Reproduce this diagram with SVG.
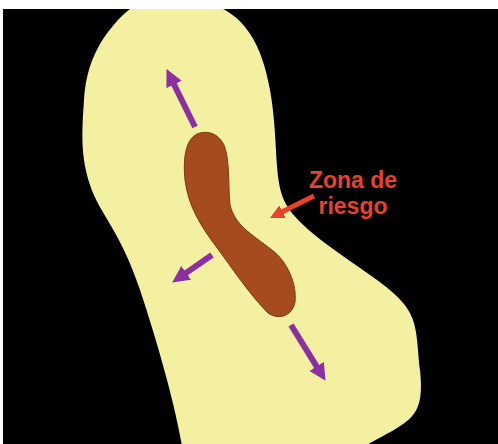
<svg xmlns="http://www.w3.org/2000/svg" width="498" height="444" viewBox="0 0 498 444">
<defs>
<style>
.purple{stroke:#8d2fa2;stroke-width:6;fill:none}
.red{stroke:#e8412c;stroke-width:5;fill:none}
.lbl{font-family:"Liberation Sans",Arial,sans-serif;font-weight:bold;font-size:23px;fill:#e8412c;text-anchor:middle}
</style>
<marker id="hp" viewBox="0 0 17 17" refX="8" refY="8.5" markerWidth="17" markerHeight="17" markerUnits="userSpaceOnUse" orient="auto"><path d="M0,0 L17,8.5 L0,17 Z" fill="#8d2fa2"/></marker>
<marker id="hr" viewBox="0 0 14 14" refX="7" refY="7" markerWidth="14" markerHeight="14" markerUnits="userSpaceOnUse" orient="auto"><path d="M0,0 L14,7 L0,14 Z" fill="#e8412c"/></marker>
</defs>
<rect width="498" height="444" fill="#000"/>
<g id="zone">
<path d="M182 446 C176 410,160 350,140 290 S100 215,90 185 S82 130,84 100 S95 45,118 20 S165 -8,205 2 S262 45,270 90 S274 170,282 195 S320 240,370 275 S415 320,420 370 S410 420,365 446 Z" fill="#f4f0a2"/>
</g>
<g id="core">
<path d="M197 134 C185 140,183 160,185 180 C188 205,200 225,215 245 C232 268,250 295,268 313 C278 320,292 317,295 302 C297 285,288 262,272 250 C250 233,235 225,230 205 C228 185,230 160,224 145 C218 133,207 130,197 134 Z" fill="#a64b1e" stroke="#7a3a10" stroke-width="1"/>
</g>
<rect x="0" y="0" width="498" height="9" fill="#fff"/>
<rect x="0" y="0" width="3" height="444" fill="#fff"/>
<g id="connectors">
<line class="purple" x1="195" y1="127" x2="170.5" y2="77.2" marker-end="url(#hp)"/>
<line class="purple" x1="212" y1="255" x2="179.6" y2="277.4" marker-end="url(#hp)"/>
<line class="purple" x1="291" y1="325" x2="320.8" y2="373.2" marker-end="url(#hp)"/>
<line class="red" x1="314" y1="196" x2="276.2" y2="214.8" marker-end="url(#hr)"/>
</g>
<g id="label">
<text class="lbl" x="353" y="188">Zona de</text>
<text class="lbl" x="353" y="214">riesgo</text>
</g>
</svg>
